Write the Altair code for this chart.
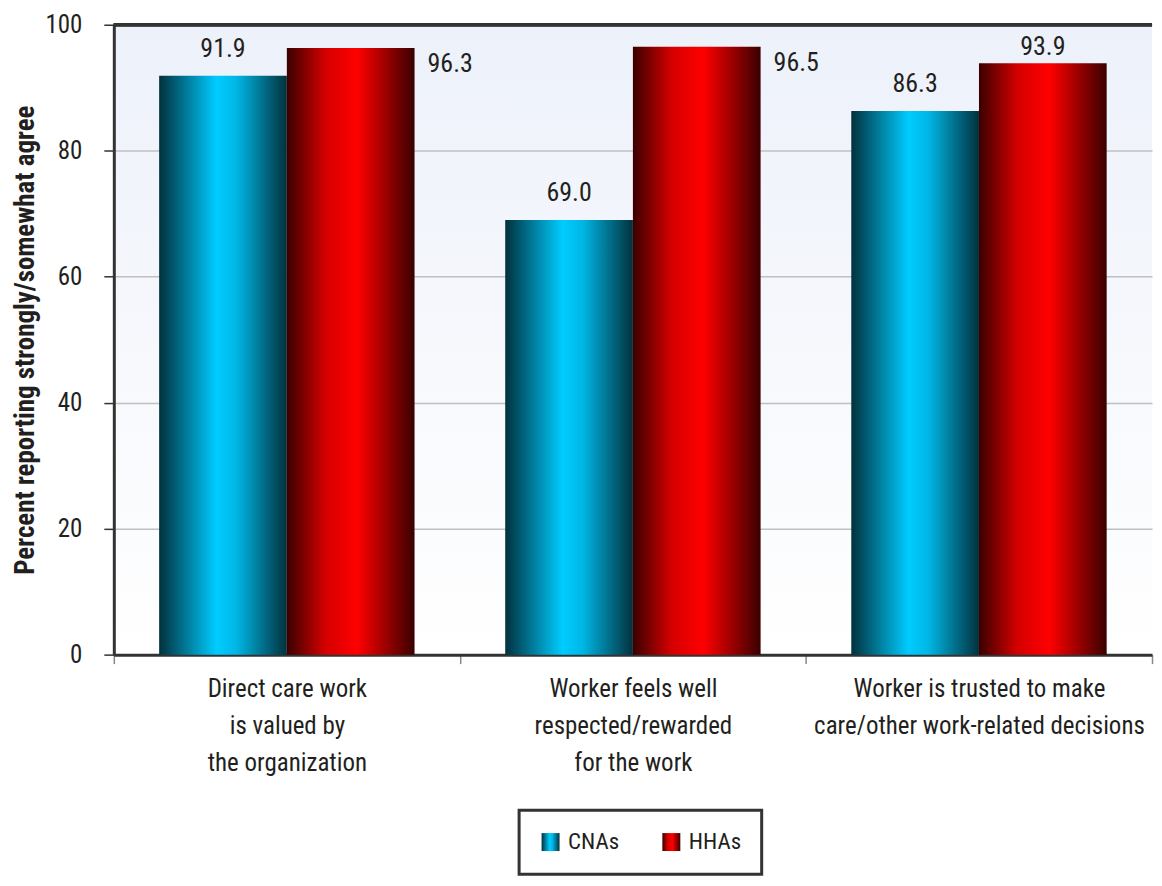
import altair as alt
import pandas as pd

categories = [
    "Direct care work\nis valued by\nthe organization",
    "Worker feels well\nrespected/rewarded\nfor the work",
    "Worker is trusted to make\ncare/other work-related decisions",
]
series = ["CNAs", "HHAs"]
cnas = [91.9, 69.0, 86.3]
hhas = [96.3, 96.5, 93.9]
y_ticks = [0, 20, 40, 60, 80, 100]

rows = []
for c, a, b in zip(categories, cnas, hhas):
    rows.append({"category": c, "series": series[0], "value": a})
    rows.append({"category": c, "series": series[1], "value": b})
df = pd.DataFrame(rows)

FONT = ("Liberation Sans Narrow, Roboto Condensed, Open Sans Condensed, "
        "Noto Sans Condensed, DejaVu Sans Condensed, sans-serif")
TXT = "#231f20"

cyan_grad = ("{gradient: 'linear', x1: 0, y1: 0, x2: 1, y2: 0, stops: ["
             "{offset: 0, color: '#02313d'}, {offset: 0.45, color: '#00ccff'}, "
             "{offset: 0.6, color: '#00b8e6'}, {offset: 1, color: '#02313d'}]}")
red_grad = ("{gradient: 'linear', x1: 0, y1: 0, x2: 1, y2: 0, stops: ["
            "{offset: 0, color: '#3a0000'}, {offset: 0.3, color: '#d40000'}, "
            "{offset: 0.55, color: '#ff0000'}, {offset: 1, color: '#3a0000'}]}")
bg_grad = ("{gradient: 'linear', x1: 0, y1: 0, x2: 0, y2: 1, stops: ["
           "{offset: 0, color: '#edf1fa'}, {offset: 1, color: '#ffffff'}]}")

x_enc = alt.X(
    "category:N",
    sort=categories,
    scale=alt.Scale(paddingInner=0, paddingOuter=0),
    axis=alt.Axis(
        title=None,
        labelAngle=0,
        labelExpr="split(datum.label, '\\n')",
        labelBaseline="top",
        labelLineHeight=37,
        labelFontSize=25,
        labelColor=TXT,
        labelPadding=13,
        tickBand="extent",
        tickSize=9,
        tickColor="#888888",
        tickWidth=1.5,
        domainColor="#333333",
        domainWidth=3,
        labelLimit=400,
    ),
)
xoff_enc = alt.XOffset("series:N", sort=series, scale=alt.Scale(paddingOuter=0.355, paddingInner=0))
y_scale = alt.Scale(domain=[0, 100], nice=False)
y_axis = alt.Axis(
    values=y_ticks,
    title="Percent reporting strongly/somewhat agree",
    titleFontSize=27,
    titleFontWeight="bold",
    titleColor=TXT,
    titlePadding=5,
    labelFontSize=25,
    labelColor=TXT,
    labelPadding=22,
    tickSize=10,
    tickColor="#333333",
    tickWidth=1.5,
    domainColor="#333333",
    domainWidth=3,
    grid=True,
    gridColor="#c0c0c0",
    gridWidth=1.5,
)
y_enc = alt.Y("value:Q", scale=y_scale, axis=y_axis)
y_lab = alt.Y("label_y:Q", scale=y_scale, axis=y_axis)

base = alt.Chart(df)

bars = base.mark_bar().encode(
    x=x_enc,
    xOffset=xoff_enc,
    y=y_enc,
    color=alt.Color(
        "series:N",
        sort=series,
        scale=alt.Scale(domain=series, range=[alt.ExprRef(cyan_grad), alt.ExprRef(red_grad)]),
        legend=alt.Legend(
            title=None,
            orient="none",
            legendX=406,
            legendY=787,
            direction="horizontal",
            symbolType="square",
            symbolSize=324,
            symbolStrokeWidth=0,
            labelFontSize=23,
            labelColor=TXT,
            labelOffset=6,
            columnPadding=40,
            padding=20,
            strokeColor="#333333",
        ),
    ),
)

# labels above bars, kept inside the plot area near the top
above = (
    base.transform_filter("datum.value <= 95")
    .transform_calculate(label_y="min(datum.value + 3.0, 95.25)")
    .mark_text(baseline="alphabetic", fontSize=26, color=TXT)
    .encode(x=x_enc, xOffset=xoff_enc, y=y_lab, text=alt.Text("value:Q", format=".1f"))
)

# labels for bars that reach the top: placed to the right of the bar
right = base.transform_filter("datum.value > 95").mark_text(
    align="left", baseline="alphabetic", dx=77, dy=24, fontSize=26, color=TXT
).encode(x=x_enc, xOffset=xoff_enc, y=y_enc, text=alt.Text("value:Q", format=".1f"))

top_line = base.mark_rule(color="#333333", strokeWidth=3).encode(y=alt.datum(100))

chart = (
    alt.layer(bars, top_line, above, right)
    .properties(width=1040, height=631, padding={"left": 3, "top": 4, "right": 0, "bottom": 0})
    .configure(font=FONT)
    .configure_view(stroke=None, fill=alt.ExprRef(bg_grad))
    .configure_legend(strokeWidth=3)
)

chart.save("out.html", embed_options={"renderer": "svg", "actions": False})
